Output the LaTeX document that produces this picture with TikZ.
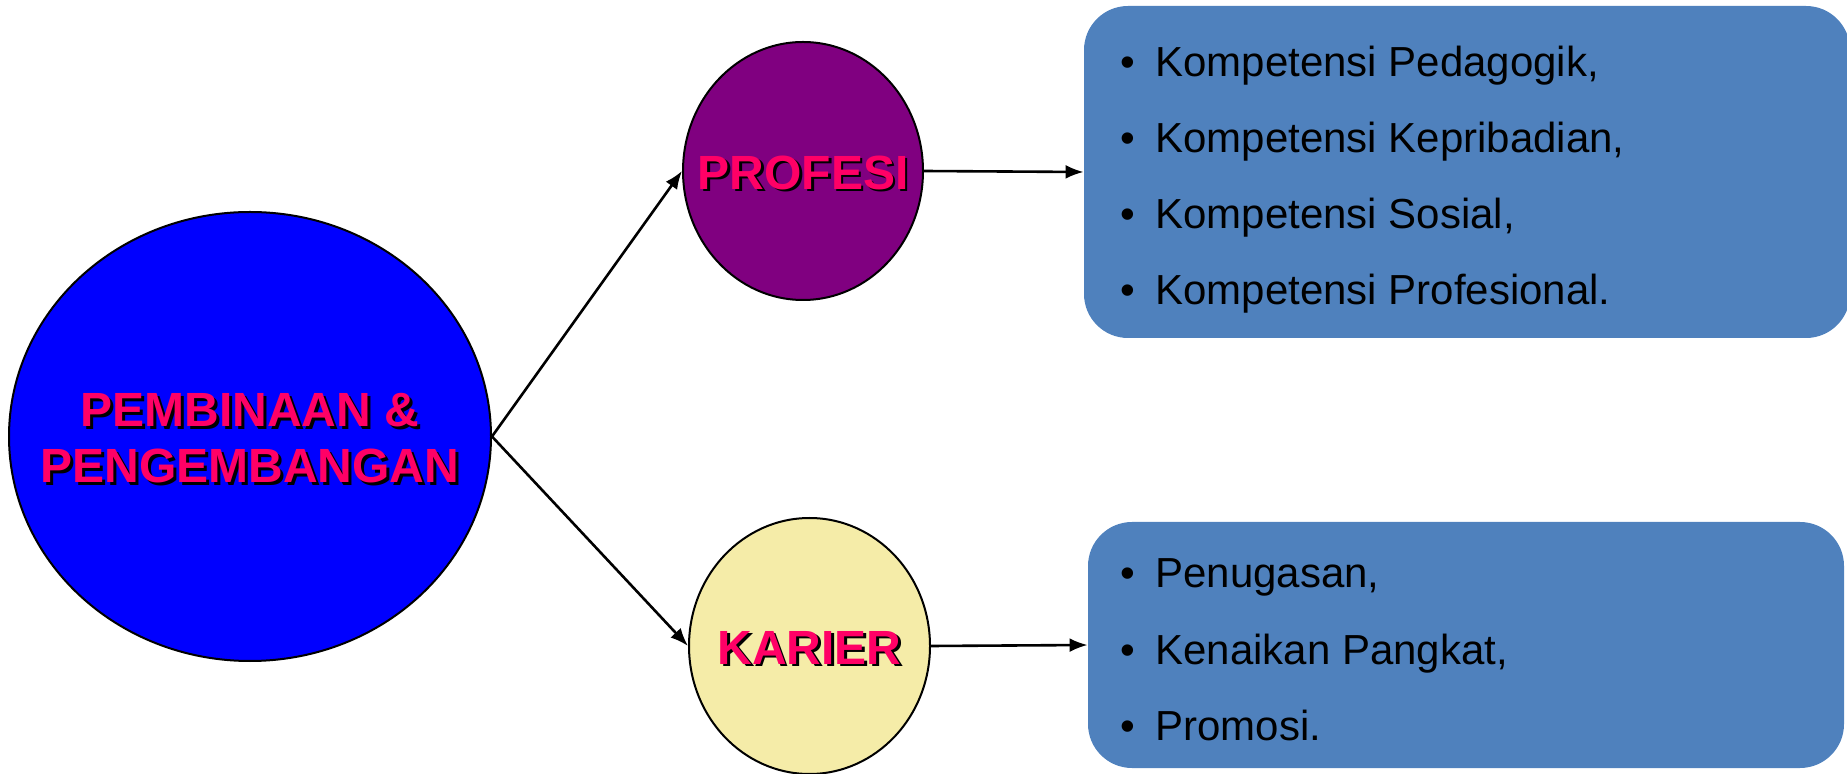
\documentclass[tikz,border=0pt]{standalone}
\usepackage{fontspec}
\setmainfont{Liberation Sans}
\usetikzlibrary{shapes.geometric,arrows.meta}
\definecolor{tpink}{HTML}{FF0066}
\definecolor{bigblue}{HTML}{0000FF}
\definecolor{purp}{HTML}{800080}
\definecolor{cream}{HTML}{F5ECA8}
\definecolor{boxblue}{HTML}{4F81BD}
\newcommand\shtext[1]{\makebox[0pt][l]{\hspace{1.4pt}\raisebox{-1.4pt}{\textcolor{black}{#1}}}\textcolor{tpink}{#1}}
\begin{document}
\begin{tikzpicture}[x=0.5pt,y=-0.5pt]
\tikzset{
 circ/.style={ellipse, draw=black, line width=1pt, inner sep=0pt},
 circtext/.style={inner sep=0pt, yshift=-1.5pt, font=\fontsize{24}{28}\selectfont\bfseries, align=center},
 listbox/.style={rectangle, rounded corners=22pt, fill=boxblue, draw=none, inner sep=0pt},
 listitem/.style={anchor=base west, inner sep=0pt, font=\fontsize{21}{25}\selectfont},
 conn/.style={line width=1.3pt, -{Latex[length=9pt,width=7pt]}}
}
\useasboundingbox (0,0) rectangle (1847,774);
\node[circ, fill=bigblue, minimum width=241pt, minimum height=224.5pt] (big) at (250,436.5) {};
\node[circtext] (bigt) at (big.center) {\shtext{PEMBINAAN \&}\\\shtext{PENGEMBANGAN}};
\node[circ, fill=purp, minimum width=120pt, minimum height=129pt] (prof) at (803,171) {};
\node[circtext] (proft) at (prof.center) {\shtext{PROFESI}};
\node[circ, fill=cream, minimum width=120.5pt, minimum height=128pt] (kar) at (809.5,646) {};
\node[circtext] (kart) at (kar.center) {\shtext{KARIER}};
\node[listbox, minimum width=383pt, minimum height=166pt] (box1) at (1467,172) {};
\node[listbox, minimum width=378pt, minimum height=123pt] (box2) at (1466,645) {};
\node[listitem] (p1) at (1120,76.5) {\makebox[17.5pt][l]{•}Kompetensi Pedagogik,};
\node[listitem] (p2) at (1120,152.5) {\makebox[17.5pt][l]{•}Kompetensi Kepribadian,};
\node[listitem] (p3) at (1120,228.5) {\makebox[17.5pt][l]{•}Kompetensi Sosial,};
\node[listitem] (p4) at (1120,304.5) {\makebox[17.5pt][l]{•}Kompetensi Profesional.};
\node[listitem] (k1) at (1120,587.5) {\makebox[17.5pt][l]{•}Penugasan,};
\node[listitem] (k2) at (1120,664) {\makebox[17.5pt][l]{•}Kenaikan Pangkat,};
\node[listitem] (k3) at (1120,740) {\makebox[17.5pt][l]{•}Promosi.};
\draw[conn] (big.east) -- (prof.west);
\draw[conn] (big.east) -- (kar.west);
\draw[conn] (prof.east) -- (box1.west);
\draw[conn] (kar.east) -- (box2.west);
\end{tikzpicture}
\end{document}
